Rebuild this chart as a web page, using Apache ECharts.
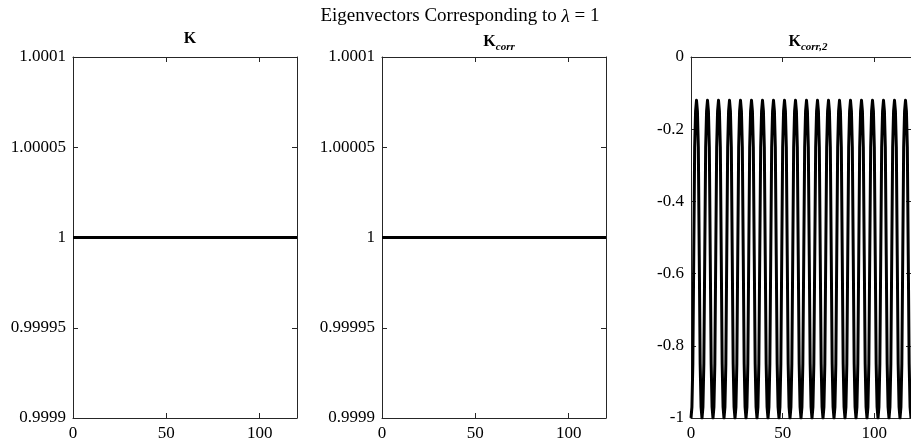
<!DOCTYPE html>
<html>
<head>
<meta charset="utf-8">
<title>Eigenvectors Corresponding to λ = 1</title>
<script src="https://cdn.jsdelivr.net/npm/echarts@6/dist/echarts.min.js"></script>
<style>
  html, body { margin: 0; padding: 0; background: #fff; }
  #chart { width: 911px; height: 443px; }
</style>
</head>
<body>
<div id="chart"></div>
<script>
// Eigenvectors for lambda = 1, three panels (K, K_corr, K_corr,2)

// x range of the vectors
const xEnds = [0, 120];
const xTicks = [0, 50, 100];

// K and K_corr: constant vectors at 1
const kValues = [1, 1];
const kCorrValues = [1, 1];

const kCorr2Step = 0.5;
const kCorr2Values = [
  -1, -0.97, -0.85, -0.55, -0.25, -0.15, -0.12, -0.15, -0.25, -0.55, -0.85, -0.97,
  -1, -0.97, -0.85, -0.55, -0.25, -0.15, -0.12, -0.15, -0.25, -0.55, -0.85, -0.97,
  -1, -0.97, -0.85, -0.55, -0.25, -0.15, -0.12, -0.15, -0.25, -0.55, -0.85, -0.97,
  -1, -0.97, -0.85, -0.55, -0.25, -0.15, -0.12, -0.15, -0.25, -0.55, -0.85, -0.97,
  -1, -0.97, -0.85, -0.55, -0.25, -0.15, -0.12, -0.15, -0.25, -0.55, -0.85, -0.97,
  -1, -0.97, -0.85, -0.55, -0.25, -0.15, -0.12, -0.15, -0.25, -0.55, -0.85, -0.97,
  -1, -0.97, -0.85, -0.55, -0.25, -0.15, -0.12, -0.15, -0.25, -0.55, -0.85, -0.97,
  -1, -0.97, -0.85, -0.55, -0.25, -0.15, -0.12, -0.15, -0.25, -0.55, -0.85, -0.97,
  -1, -0.97, -0.85, -0.55, -0.25, -0.15, -0.12, -0.15, -0.25, -0.55, -0.85, -0.97,
  -1, -0.97, -0.85, -0.55, -0.25, -0.15, -0.12, -0.15, -0.25, -0.55, -0.85, -0.97,
  -1, -0.97, -0.85, -0.55, -0.25, -0.15, -0.12, -0.15, -0.25, -0.55, -0.85, -0.97,
  -1, -0.97, -0.85, -0.55, -0.25, -0.15, -0.12, -0.15, -0.25, -0.55, -0.85, -0.97,
  -1, -0.97, -0.85, -0.55, -0.25, -0.15, -0.12, -0.15, -0.25, -0.55, -0.85, -0.97,
  -1, -0.97, -0.85, -0.55, -0.25, -0.15, -0.12, -0.15, -0.25, -0.55, -0.85, -0.97,
  -1, -0.97, -0.85, -0.55, -0.25, -0.15, -0.12, -0.15, -0.25, -0.55, -0.85, -0.97,
  -1, -0.97, -0.85, -0.55, -0.25, -0.15, -0.12, -0.15, -0.25, -0.55, -0.85, -0.97,
  -1, -0.97, -0.85, -0.55, -0.25, -0.15, -0.12, -0.15, -0.25, -0.55, -0.85, -0.97,
  -1, -0.97, -0.85, -0.55, -0.25, -0.15, -0.12, -0.15, -0.25, -0.55, -0.85, -0.97,
  -1, -0.97, -0.85, -0.55, -0.25, -0.15, -0.12, -0.15, -0.25, -0.55, -0.85, -0.97,
  -1, -0.97, -0.85, -0.55, -0.25, -0.15, -0.12, -0.15, -0.25, -0.55, -0.85, -0.97,
  -1
];

// y axes
const yRangeK = [0.9999, 1.0001];
const yIntervalK = 0.00005;
const yRangeK2 = [-1, 0];
const yIntervalK2 = 0.2;

const FONT = '"Liberation Serif", "DejaVu Serif", serif';
const AXIS_COLOR = '#262626';

document.addEventListener('DOMContentLoaded', function() {
    const chart = echarts.init(document.getElementById('chart'), null, { renderer: 'canvas' });

    const panelLefts = [73, 382, 691];
    const panelWidth = 224;
    const panelTop = 57;
    const panelHeight = 361;

    const grids = panelLefts.map(left => ({
        left: left, top: panelTop, width: panelWidth, height: panelHeight, containLabel: false
    }));

    function fmtY(v) {
        return String(parseFloat(v.toFixed(6)));
    }

    const xAxes = [];
    const yAxes = [];
    grids.forEach((g, i) => {
        [false, true].forEach(mirror => {
            xAxes.push({
                type: 'value', gridIndex: i, min: xEnds[0], max: xEnds[1], interval: 50,
                position: mirror ? 'top' : 'bottom',
                axisLine: { show: true, onZero: false, lineStyle: { color: AXIS_COLOR, width: 1 } },
                axisTick: { show: true, inside: true, length: 5, lineStyle: { color: AXIS_COLOR } },
                axisLabel: {
                    show: !mirror, margin: 7, color: '#000', fontFamily: FONT, fontSize: 17,
                    showMaxLabel: false
                },
                splitLine: { show: false }
            });
            const range = i < 2 ? yRangeK : yRangeK2;
            const interval = i < 2 ? yIntervalK : yIntervalK2;
            yAxes.push({
                type: 'value', gridIndex: i, min: range[0], max: range[1], interval: interval,
                position: mirror ? 'right' : 'left',
                axisLine: { show: true, onZero: false, lineStyle: { color: AXIS_COLOR, width: 1 } },
                axisTick: { show: true, inside: true, length: 5, lineStyle: { color: AXIS_COLOR } },
                axisLabel: {
                    show: !mirror, margin: 7, color: '#000', fontFamily: FONT, fontSize: 17,
                    formatter: fmtY
                },
                splitLine: { show: false }
            });
        });
    });

    const kData = xEnds.map((x, j) => [x, kValues[j]]);
    const kCorrData = xEnds.map((x, j) => [x, kCorrValues[j]]);
    const kCorr2Data = kCorr2Values.map((v, j) => [j * kCorr2Step, v]);

    const lineBase = {
        type: 'line', showSymbol: false, symbol: 'none', animation: false,
        lineStyle: { color: '#000', width: 3, join: 'round', cap: 'butt' }
    };

    // subplot titles: bold K with an italic subscript
    const rich = {
        b: { fontFamily: FONT, fontSize: 16, fontWeight: 'bold', color: '#000',
             lineHeight: 18, verticalAlign: 'middle' },
        s: { fontFamily: FONT, fontSize: 11, fontStyle: 'italic', fontWeight: 'bold', color: '#000',
             lineHeight: 23, verticalAlign: 'bottom' }
    };

    const option = {
        backgroundColor: '#fff',
        animation: false,
        title: [
            {
                text: '{n|Eigenvectors Corresponding to }{i|λ}{n| = 1}',
                left: 455, top: 2, textAlign: 'center',
                textStyle: {
                    fontWeight: 'normal',
                    rich: {
                        n: { fontFamily: FONT, fontSize: 19, fontWeight: 'normal', color: '#000' },
                        i: { fontFamily: FONT, fontSize: 19, fontWeight: 'normal', fontStyle: 'italic', color: '#000' }
                    }
                }
            },
            { text: '{b|K}', left: 185, top: 25, textAlign: 'center', textStyle: { rich: rich } },
            { text: '{b|K}{s|corr}', left: 494, top: 25, textAlign: 'center', textStyle: { rich: rich } },
            { text: '{b|K}{s|corr,2}', left: 803, top: 25, textAlign: 'center', textStyle: { rich: rich } }
        ],
        grid: grids,
        xAxis: xAxes,
        yAxis: yAxes,
        series: [
            Object.assign({}, lineBase, { name: 'K', xAxisIndex: 0, yAxisIndex: 0, data: kData }),
            Object.assign({}, lineBase, { name: 'K_corr', xAxisIndex: 2, yAxisIndex: 2, data: kCorrData }),
            Object.assign({}, lineBase, { name: 'K_corr,2', xAxisIndex: 4, yAxisIndex: 4, data: kCorr2Data })
        ]
    };

    chart.setOption(option);
});
</script>
</body>
</html>
